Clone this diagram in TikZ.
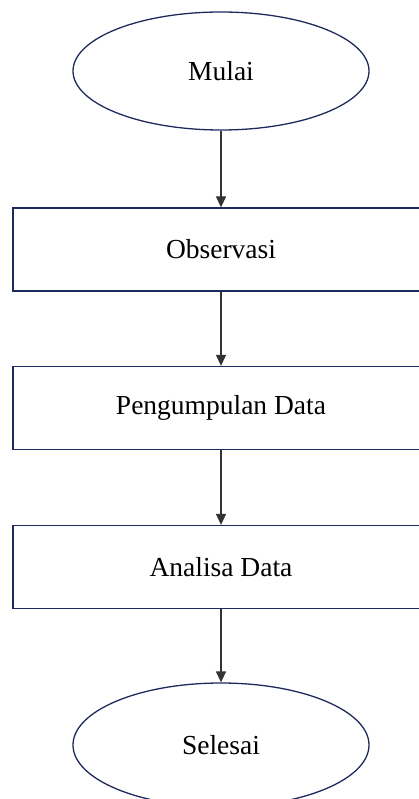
\documentclass[tikz,border=0pt]{standalone}
\usepackage{fontspec}
\setmainfont{Liberation Serif}
\usetikzlibrary{shapes.geometric,arrows.meta}
\definecolor{navy}{HTML}{1F2A5C}
\definecolor{arrowgray}{HTML}{333333}
\begin{document}
\begin{tikzpicture}[x=1pt,y=-1pt,
  every node/.style={font=\fontsize{27.5}{30}\selectfont},
  term/.style={ellipse,draw=navy,line width=1.3pt,minimum width=296pt,inner sep=0pt},
  procbox/.style={rectangle,draw=navy,line width=1.3pt,minimum width=416pt,minimum height=83pt,inner sep=0pt},
  flow/.style={draw=arrowgray,line width=1.3pt,-{Triangle[length=11pt,width=10pt]}}]
\path[use as bounding box] (0,0) rectangle (419,799);
\begin{scope}
\clip (0,0) rectangle (419,799);
\node[term,minimum height=118pt] (mulai) at (221,71) {Mulai};
\node[procbox] (obs) at (221,249.5) {Observasi};
\node[procbox] (peng) at (221,408) {Pengumpulan Data};
\node[procbox] (anal) at (221,567) {Analisa Data};
\node[term,minimum height=124pt] (sel) at (221,745) {Selesai};
\draw[flow] (mulai) -- (obs);
\draw[flow] (obs) -- (peng);
\draw[flow] (peng) -- (anal);
\draw[flow] (anal) -- (sel);
\end{scope}
\end{tikzpicture}
\end{document}
